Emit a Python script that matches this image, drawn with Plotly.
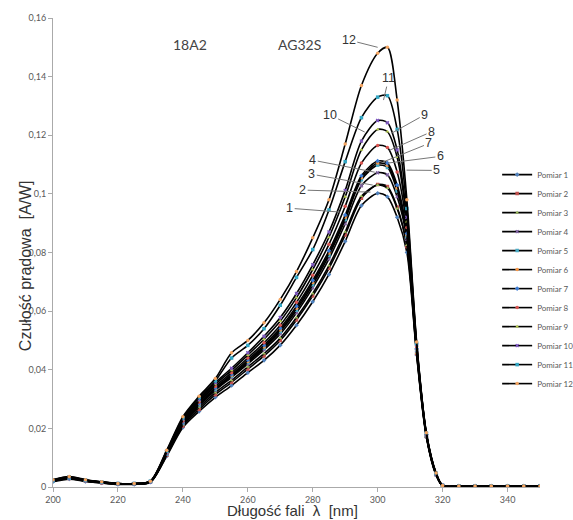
import plotly.graph_objects as go

wavelength = [200, 205, 210, 215, 220, 225, 230, 235, 240, 245, 250, 255, 260, 265, 270, 275,
              280, 285, 290, 295, 300, 303, 306, 309, 312, 315, 318, 320,
              325, 330, 335, 340, 345, 350]

tail = [0.0003, 0.0003, 0.0003, 0.0003, 0.0003, 0.0003]

pomiar_1 = [.0018, .0027, .0019, .0014, .0009, .0009, .0016, .0105, .0203, .0258, .0306, .0346, .0390, .0432, .0484, .0552,
            .0632, .0725, .0838, .0960, .1002, .0990, .0920, .0800, .0450, .0170, .0040, .0005] + tail
pomiar_2 = [.0020, .0029, .0020, .0014, .0010, .0010, .0017, .0108, .0208, .0265, .0315, .0357, .0402, .0447, .0500, .0570,
            .0652, .0746, .0860, .0985, .1032, .1025, .0955, .0820, .0455, .0172, .0042, .0005] + tail
pomiar_3 = [.0019, .0030, .0021, .0015, .0010, .0010, .0017, .0110, .0212, .0272, .0322, .0364, .0410, .0455, .0508, .0578,
            .0660, .0755, .0870, .0992, .1030, .1020, .0950, .0825, .0458, .0173, .0042, .0005] + tail
pomiar_4 = [.0021, .0031, .0021, .0015, .0010, .0010, .0017, .0112, .0216, .0278, .0330, .0374, .0420, .0468, .0522, .0594,
            .0680, .0778, .0898, .1028, .1072, .1065, .0990, .0845, .0465, .0175, .0043, .0005] + tail
pomiar_5 = [.0020, .0030, .0022, .0016, .0011, .0011, .0018, .0113, .0218, .0280, .0333, .0378, .0425, .0474, .0530, .0603,
            .0690, .0790, .0912, .1048, .1098, .1090, .1010, .0855, .0468, .0176, .0043, .0005] + tail
pomiar_6 = [.0022, .0032, .0022, .0016, .0011, .0011, .0018, .0115, .0220, .0283, .0336, .0380, .0428, .0478, .0536, .0610,
            .0698, .0798, .0920, .1055, .1105, .1098, .1020, .0860, .0470, .0177, .0044, .0005] + tail
pomiar_7 = [.0021, .0031, .0022, .0016, .0011, .0011, .0018, .0114, .0221, .0285, .0338, .0384, .0433, .0484, .0542, .0617,
            .0705, .0806, .0928, .1062, .1112, .1105, .1030, .0865, .0472, .0178, .0044, .0005] + tail
pomiar_8 = [.0022, .0032, .0023, .0016, .0011, .0011, .0019, .0117, .0225, .0290, .0344, .0390, .0440, .0492, .0552, .0630,
            .0722, .0828, .0958, .1105, .1165, .1158, .1075, .0885, .0478, .0180, .0045, .0005] + tail
pomiar_9 = [.0023, .0033, .0023, .0017, .0012, .0012, .0019, .0119, .0228, .0294, .0350, .0398, .0450, .0504, .0566, .0646,
            .0742, .0852, .0990, .1150, .1220, .1212, .1125, .0905, .0482, .0181, .0045, .0005] + tail
pomiar_10 = [.0023, .0034, .0024, .0017, .0012, .0012, .0019, .0120, .0232, .0298, .0356, .0405, .0458, .0514, .0578, .0660,
             .0758, .0870, .1012, .1180, .1250, .1243, .1150, .0920, .0485, .0182, .0046, .0005] + tail
pomiar_11 = [.0024, .0035, .0024, .0017, .0012, .0012, .0020, .0122, .0236, .0305, .0362, .0440, .0483, .0540, .0620, .0715,
             .0810, .0945, .1110, .1260, .1330, .1335, .1220, .0950, .0490, .0184, .0047, .0005] + tail
pomiar_12 = [.0025, .0036, .0025, .0018, .0012, .0012, .0020, .0125, .0240, .0310, .0370, .0458, .0500, .0560, .0640, .0735,
             .0850, .0980, .1170, .1370, .1480, .1500, .1320, .0980, .0495, .0185, .0048, .0005] + tail

series = [pomiar_1, pomiar_2, pomiar_3, pomiar_4, pomiar_5, pomiar_6,
          pomiar_7, pomiar_8, pomiar_9, pomiar_10, pomiar_11, pomiar_12]
names = ["Pomiar %d" % i for i in range(1, 13)]
marker_colors = ["#4F81BD", "#C0504D", "#9BBB59", "#8064A2", "#4BACC6", "#F79646",
                 "#3A7BD5", "#D9534F", "#B5CC4A", "#7E57C2", "#31A6C4", "#F4A460"]
marker_symbols = ["diamond", "square", "triangle-up", "x", "square", "circle",
                  "diamond", "circle", "triangle-up", "x", "square", "circle"]

# curve labels: (text, tip wavelength, tip value, text wavelength, text value)
label_text = ["12", "11", "10", "9", "8", "7", "6", "5", "4", "3", "2", "1"]
label_tip_x = [300.0, 301.8, 296.0, 304.3, 303.7, 301.5, 303.1, 308.9, 299.1, 298.5, 297.8, 288.3]
label_tip_y = [0.1500, 0.1320, 0.1211, 0.1207, 0.1149, 0.1108, 0.1105, 0.1081, 0.1074, 0.1030, 0.1006, 0.0938]
label_txt_x = [291.1, 303.4, 285.2, 314.5, 316.6, 315.8, 319.3, 318.2, 280.0, 279.7, 276.9, 272.9]
label_txt_y = [0.1525, 0.1395, 0.1270, 0.1270, 0.1212, 0.1172, 0.1128, 0.1080, 0.1115, 0.1067, 0.1013, 0.0951]

fig = go.Figure()
for vals, nm, col, sym in zip(series, names, marker_colors, marker_symbols):
    fig.add_trace(go.Scatter(
        x=wavelength, y=vals, name=nm, mode="lines+markers",
        line=dict(color="black", width=1.6, shape="spline", smoothing=0.8),
        marker=dict(color=col, size=3.5, symbol=sym, line=dict(width=0)),
    ))

annotations = []
for t, tx, ty, ax, ay in zip(label_text, label_tip_x, label_tip_y, label_txt_x, label_txt_y):
    annotations.append(dict(
        x=tx, y=ty, ax=ax, ay=ay, xref="x", yref="y", axref="x", ayref="y",
        text=t, showarrow=True, arrowhead=0, arrowwidth=1, arrowcolor="#777777",
        standoff=0, startstandoff=0,
        font=dict(family="Liberation Sans, Arial", size=12.5, color="#333333"),
    ))

annotations += [
    dict(x=242.2, y=0.151, xref="x", yref="y", text="18A2", showarrow=False,
         font=dict(family="Lato, Open Sans", size=14, color="#444444")),
    dict(x=276.0, y=0.151, xref="x", yref="y", text="AG32S", showarrow=False,
         font=dict(family="Lato, Open Sans", size=14, color="#444444")),
    dict(x=-0.0575, y=0.473, xref="paper", yref="paper", text="Czułość prądowa  [A/W]",
         textangle=-90, showarrow=False, xanchor="center", yanchor="middle",
         font=dict(family="Liberation Sans, Arial", size=16, color="#333333")),
    dict(x=0.491, y=-0.051, xref="paper", yref="paper", text="Długość fali  \u03bb  [nm]",
         showarrow=False, xanchor="center", yanchor="middle",
         font=dict(family="Liberation Sans, Arial", size=15, color="#333333")),
]

fig.update_layout(
    width=573, height=520,
    margin=dict(l=53, r=33, t=18, b=33, autoexpand=False),
    paper_bgcolor="white", plot_bgcolor="white",
    separators=", ",
    showlegend=True,
    legend=dict(x=0.912, y=0.697, xanchor="left", yanchor="top",
                bgcolor="rgba(0,0,0,0)", borderwidth=0,
                font=dict(family="Lato, Open Sans", size=8, color="#595959"),
                itemwidth=30, tracegroupgap=0),
    annotations=annotations,
    xaxis=dict(range=[200, 350], tick0=200, dtick=20, showgrid=False, zeroline=False,
               showline=True, linecolor="#AAAAAA", linewidth=1,
               ticks="outside", ticklen=4, tickcolor="#AAAAAA",
               tickfont=dict(family="Lato, Open Sans", size=9, color="#595959")),
    yaxis=dict(range=[0, 0.16], tick0=0, dtick=0.02, showgrid=False, zeroline=False,
               showline=True, linecolor="#AAAAAA", linewidth=1,
               ticks="outside", ticklen=4, tickcolor="#AAAAAA",
               tickfont=dict(family="Lato, Open Sans", size=9, color="#595959")),
)

fig.write_html(
    "out.html",
    config={"displayModeBar": False},
    post_script="document.body.style.margin='0';document.body.style.overflow='hidden';"
                "document.documentElement.style.overflow='hidden';",
)
